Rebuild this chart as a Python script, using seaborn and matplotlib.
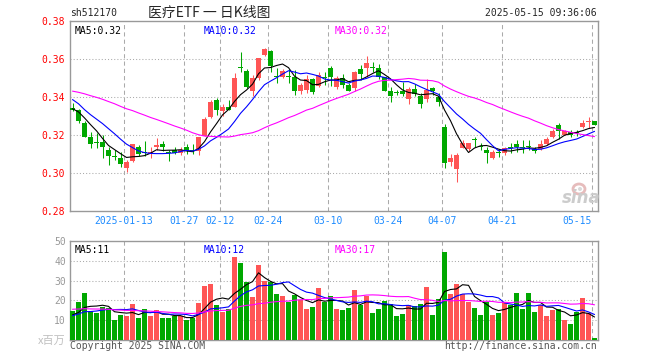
import numpy as np
import pandas as pd
import matplotlib
matplotlib.use("Agg")
import matplotlib.pyplot as plt
import matplotlib.patches as mpatches
import seaborn as sns

# ---- data (sh512170, 2024-12-30 .. 2025-05-15) ----
opens = [0.3345, 0.3333, 0.3265, 0.3191, 0.3165, 0.3165, 0.3123, 0.3084, 0.3079, 0.3026,
         0.3061, 0.3135, 0.3111, 0.3103, 0.3137, 0.3154, 0.3111, 0.3120, 0.3104, 0.3135,
         0.3118, 0.3118, 0.3195, 0.3298, 0.3386, 0.3325, 0.3346, 0.3346, 0.3557, 0.3539,
         0.3435, 0.3500, 0.3623, 0.3646, 0.3512, 0.3509, 0.3512, 0.3509, 0.3430, 0.3440,
         0.3496, 0.3458, 0.3502, 0.3553, 0.3456, 0.3500, 0.3465, 0.3447, 0.3549, 0.3556,
         0.3555, 0.3553, 0.3505, 0.3435, 0.3423, 0.3430, 0.3389, 0.3442, 0.3407, 0.3390,
         0.3447, 0.3400, 0.3244, 0.3056, 0.3021, 0.3133, 0.3125, 0.3176, 0.3141, 0.3121,
         0.3077, 0.3105, 0.3104, 0.3132, 0.3153, 0.3132, 0.3141, 0.3126, 0.3125, 0.3153,
         0.3188, 0.3253, 0.3202, 0.3218, 0.3212, 0.3244, 0.3270, 0.3274]
highs = [0.3368, 0.3339, 0.3272, 0.3219, 0.3210, 0.3198, 0.3140, 0.3123, 0.3111, 0.3068,
         0.3153, 0.3146, 0.3167, 0.3135, 0.3184, 0.3170, 0.3123, 0.3135, 0.3140, 0.3153,
         0.3153, 0.3191, 0.3298, 0.3386, 0.3398, 0.3363, 0.3386, 0.3530, 0.3637, 0.3546,
         0.3518, 0.3605, 0.3661, 0.3649, 0.3553, 0.3546, 0.3546, 0.3544, 0.3475, 0.3516,
         0.3503, 0.3535, 0.3535, 0.3565, 0.3512, 0.3520, 0.3475, 0.3540, 0.3570, 0.3618,
         0.3584, 0.3575, 0.3509, 0.3456, 0.3437, 0.3482, 0.3453, 0.3470, 0.3421, 0.3495,
         0.3456, 0.3421, 0.3261, 0.3098, 0.3104, 0.3174, 0.3161, 0.3191, 0.3156, 0.3139,
         0.3121, 0.3121, 0.3139, 0.3156, 0.3174, 0.3174, 0.3174, 0.3139, 0.3174, 0.3191,
         0.3230, 0.3265, 0.3228, 0.3226, 0.3226, 0.3282, 0.3293, 0.3277]
lows = [0.3325, 0.3263, 0.3191, 0.3132, 0.3132, 0.3079, 0.3040, 0.3067, 0.3030, 0.3007,
        0.3056, 0.3088, 0.3088, 0.3079, 0.3123, 0.3114, 0.3066, 0.3100, 0.3096, 0.3100,
        0.3100, 0.3096, 0.3195, 0.3288, 0.3307, 0.3300, 0.3330, 0.3346, 0.3535, 0.3447,
        0.3404, 0.3491, 0.3618, 0.3535, 0.3477, 0.3500, 0.3474, 0.3412, 0.3416, 0.3421,
        0.3417, 0.3452, 0.3465, 0.3458, 0.3445, 0.3451, 0.3430, 0.3430, 0.3491, 0.3509,
        0.3535, 0.3495, 0.3430, 0.3374, 0.3409, 0.3404, 0.3363, 0.3407, 0.3342, 0.3377,
        0.3412, 0.3351, 0.3028, 0.3039, 0.2954, 0.3130, 0.3118, 0.3139, 0.3121, 0.3054,
        0.3072, 0.3086, 0.3096, 0.3104, 0.3111, 0.3104, 0.3121, 0.3104, 0.3121, 0.3148,
        0.3184, 0.3177, 0.3200, 0.3191, 0.3195, 0.3240, 0.3240, 0.3251]
closes = [0.3335, 0.3277, 0.3191, 0.3154, 0.3156, 0.3135, 0.3091, 0.3083, 0.3046, 0.3056,
          0.3153, 0.3100, 0.3104, 0.3111, 0.3146, 0.3135, 0.3106, 0.3106, 0.3121, 0.3114,
          0.3116, 0.3191, 0.3286, 0.3377, 0.3333, 0.3346, 0.3332, 0.3500, 0.3555, 0.3456,
          0.3500, 0.3605, 0.3654, 0.3567, 0.3509, 0.3539, 0.3509, 0.3430, 0.3465, 0.3496,
          0.3428, 0.3518, 0.3499, 0.3509, 0.3500, 0.3465, 0.3435, 0.3535, 0.3521, 0.3579,
          0.3553, 0.3509, 0.3435, 0.3408, 0.3421, 0.3418, 0.3442, 0.3416, 0.3365, 0.3439,
          0.3430, 0.3375, 0.3054, 0.3081, 0.3095, 0.3156, 0.3156, 0.3172, 0.3139, 0.3104,
          0.3112, 0.3104, 0.3130, 0.3130, 0.3135, 0.3130, 0.3139, 0.3118, 0.3153, 0.3179,
          0.3221, 0.3220, 0.3223, 0.3200, 0.3209, 0.3265, 0.3275, 0.3253]
volumes = [14.7, 19.2, 23.7, 14.7, 13.7, 16.7, 16.4, 10.2, 12.7, 12.2,
           18.2, 11.2, 15.7, 12.2, 15.2, 11.2, 11.2, 12.2, 12.2, 10.2,
           11.2, 18.7, 27.3, 28.3, 17.7, 14.2, 15.7, 41.8, 38.8, 29.3,
           21.7, 37.8, 29.8, 29.3, 23.2, 22.2, 19.2, 22.7, 20.2, 15.7,
           16.7, 26.3, 19.2, 22.2, 15.7, 15.2, 16.2, 25.2, 17.7, 22.2,
           13.7, 15.7, 19.7, 18.2, 12.2, 13.2, 17.7, 17.2, 18.2, 26.7,
           12.7, 20.7, 44.2, 23.2, 28.2, 23.2, 19.2, 16.2, 12.7, 19.2,
           12.7, 13.7, 19.2, 17.7, 23.7, 15.7, 23.7, 14.2, 17.7, 12.2,
           15.2, 15.7, 10.2, 8.2, 14.2, 21.2, 13.7, 1.2]

# sessions before the window, estimated from where the MA lines start
prev_closes = [0.346, 0.343, 0.345, 0.342, 0.344, 0.345, 0.343, 0.346, 0.344,
               0.344, 0.347, 0.345, 0.348, 0.346, 0.347, 0.345, 0.346, 0.344, 0.346,
               0.352, 0.350, 0.350, 0.342, 0.339, 0.337, 0.336, 0.335, 0.333, 0.332]
prev_volumes = [16, 19, 18, 15, 17, 21, 18, 16, 17, 19, 15, 18, 17, 20, 16, 17, 18, 16, 18,
                13, 11, 12, 14, 11, 12, 13, 11, 12, 13]

date_ticks = [9, 19, 25, 33, 43, 53, 62, 72, 87]
date_labels = ["2025-01-13", "01-27", "02-12", "02-24", "03-10",
               "03-24", "04-07", "04-21", "05-15"]

RED = "#ff5555"
GREEN = "#00a800"
GRID = "#aaaaaa"
BORDER = "#999999"

sns.set_style("white")
plt.rcParams["font.family"] = ["DejaVu Sans Mono"]

n = len(closes)
idx = np.arange(n)
o = np.array(opens); h = np.array(highs); l = np.array(lows); c = np.array(closes)
up = c >= o


def moving(prev, vals, w):
    s = pd.Series(list(prev) + list(vals)).rolling(w).mean()
    return s.values[-len(vals):]


ma = {w: moving(prev_closes, closes, w) for w in (5, 10, 30)}
vma = {w: moving(prev_volumes, volumes, w) for w in (5, 10, 30)}
ma_colors = {5: "black", 10: "blue", 30: "magenta"}

W, H = 660, 360
fig = plt.figure(figsize=(6.6, 3.6), dpi=100)
fig.patch.set_facecolor("white")


def fx(px):
    return px / W


def fy(py):
    return 1 - py / H


ax = fig.add_axes([fx(70), fy(211), 528 / W, (211 - 21.3) / H])
axv = fig.add_axes([fx(70), fy(340.3), 528 / W, 99.6 / H])

x0, x1 = -0.42, n - 0.42
lw1 = 0.75

for a in (ax, axv):
    a.set_facecolor("white")
    for s in a.spines.values():
        s.set_color(BORDER)
        s.set_linewidth(1.0)
    for t in date_ticks:
        a.axvline(t - 0.417, color=GRID, lw=lw1, ls=(0, (4, 3)), zorder=0.5)

# ---- price panel ----
body_w = 5 / 6
for i in idx:
    col = RED if up[i] else GREEN
    ax.vlines(i, l[i], h[i], color=col, lw=lw1, zorder=2)
    lo, hi = min(o[i], c[i]), max(o[i], c[i])
    ax.bar(i, max(hi - lo, 0.0005), bottom=lo, width=body_w, color=col, lw=0, zorder=3)

for w in (5, 10, 30):
    sns.lineplot(x=idx, y=ma[w], color=ma_colors[w], lw=0.8, ax=ax, zorder=4)

ax.set_xlim(x0, x1)
ax.set_ylim(0.28, 0.38)
ax.set_yticks([0.28, 0.30, 0.32, 0.34, 0.36, 0.38])
ax.set_yticklabels(["0.28", "0.30", "0.32", "0.34", "0.36", "0.38"], color="red", fontsize=7)
for yv in (0.30, 0.32, 0.34, 0.36):
    ax.axhline(yv, color=GRID, lw=lw1, ls=(0, (1, 2)), zorder=0.5)
ax.set_xticks([t - 0.417 for t in date_ticks])
ax.set_xticklabels(date_labels, color="#1e8cff", fontsize=7)
ax.get_xticklabels()[-1].set_ha("right")
ax.tick_params(length=0, pad=3.5)
ax.set_xlabel("")
ax.set_ylabel("")

ax.text(5 / 528, 0.975, f"MA5:{ma[5][-1]:.2f}", transform=ax.transAxes, color="black",
        fontsize=7, va="top")
ax.text(134 / 528, 0.975, f"MA10:{ma[10][-1]:.2f}", transform=ax.transAxes, color="blue",
        fontsize=7, va="top")
ax.text(265 / 528, 0.975, f"MA30:{ma[30][-1]:.2f}", transform=ax.transAxes, color="magenta",
        fontsize=7, va="top")

# ---- volume panel ----
vdf = pd.DataFrame({"i": idx, "vol": volumes, "dir": np.where(up, "up", "down")})
sns.barplot(data=vdf, x="i", y="vol", hue="dir", palette={"up": RED, "down": GREEN},
            native_scale=True, dodge=False, width=body_w, saturation=1, errorbar=None,
            legend=False, linewidth=0, ax=axv, zorder=3)
for w in (5, 10, 30):
    sns.lineplot(x=idx, y=vma[w], color=ma_colors[w], lw=0.8, ax=axv, zorder=4)

axv.set_xlim(x0, x1)
axv.set_ylim(0, 50)
axv.set_yticks([10, 20, 30, 40, 50])
axv.set_yticklabels(["10", "20", "30", "40", "50"], color="#999999", fontsize=7)
for yv in (10, 20, 30, 40):
    axv.axhline(yv, color=GRID, lw=lw1, ls=(0, (1, 2)), zorder=0.5)
axv.set_xticks([])
axv.tick_params(length=0, pad=3)
axv.set_xlabel("")
axv.set_ylabel("")

axv.text(5 / 528, 0.955, f"MA5:{int(vma[5][-1])}", transform=axv.transAxes, color="black",
         fontsize=7, va="top")
axv.text(134 / 528, 0.955, f"MA10:{int(vma[10][-1])}", transform=axv.transAxes, color="blue",
         fontsize=7, va="top")
axv.text(265 / 528, 0.955, f"MA30:{int(vma[30][-1])}", transform=axv.transAxes,
         color="magenta", fontsize=7, va="top")

# ---- header / footer texts ----
fig.text(fx(70), fy(13), "sh512170", fontsize=7, va="center", ha="left")
fig.text(fx(209), fy(13), "医疗ETF 一 日K线图", fontsize=10, va="center", ha="center",
         family=["Noto Sans CJK SC", "DejaVu Sans"])
fig.text(fx(597), fy(13), "2025-05-15 09:36:06", fontsize=7, va="center", ha="right")
fig.text(fx(66), fy(341), "x百万", fontsize=8, va="center", ha="right", color="#c0c0c0",
         family=["Noto Sans CJK SC", "DejaVu Sans"])
fig.text(fx(70), fy(346), "Copyright 2025 SINA.COM", fontsize=7, va="center", ha="left",
         color="#555555")
fig.text(fx(597), fy(346), "http://finance.sina.com.cn", fontsize=7, va="center", ha="right",
         color="#555555")

# sina watermark (eye logo + word)
fig.patches.append(mpatches.Ellipse((fx(579), fy(189)), 12 / W, 10 / H, transform=fig.transFigure,
                                    facecolor="none", edgecolor="#e6bcbc", lw=2.0))
fig.patches.append(mpatches.Ellipse((fx(580), fy(189)), 4 / W, 4 / H, transform=fig.transFigure,
                                    facecolor="#d9d9d9", edgecolor="none"))
fig.text(fx(581), fy(198), "sina", fontsize=12, va="center", ha="center", color="#cccccc",
         weight="bold", style="italic", family=["DejaVu Sans"])

fig.savefig("out.png", dpi=100, facecolor="white")
